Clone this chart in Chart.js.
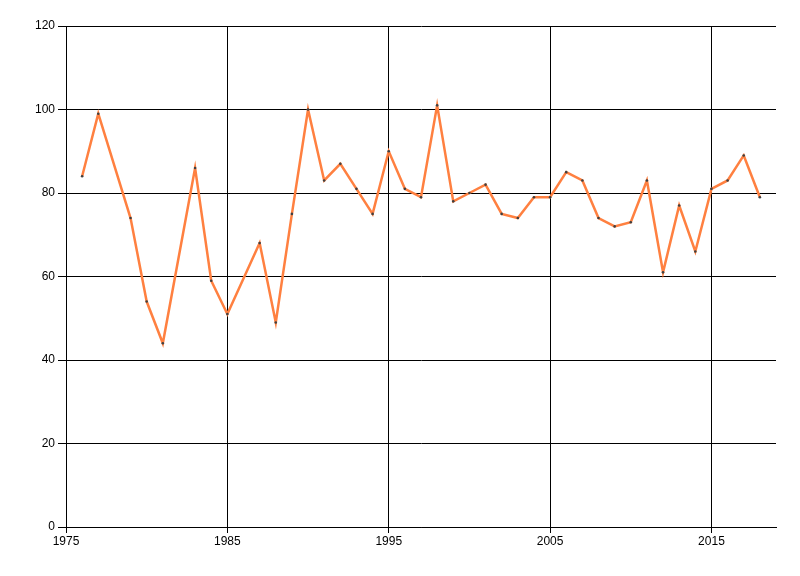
<!DOCTYPE html>
<html>
<head>
<meta charset="utf-8">
<script src="https://cdn.jsdelivr.net/npm/chart.js@4/dist/chart.umd.min.js"></script>
<style>
html,body{margin:0;padding:0;background:#fff;}
#wrap{width:800px;height:576px;position:relative;}
</style>
</head>
<body>
<div id="wrap"><canvas id="c" width="800" height="576"></canvas></div>
<script>
const years = [1976,1977,1979,1980,1981,1983,1984,1985,1987,1988,1989,1990,1991,1992,1993,1994,1995,1996,1997,1998,1999,2000,2001,2002,2003,2004,2005,2006,2007,2008,2009,2010,2011,2012,2013,2014,2015,2016,2017,2018];
const values = [84,99,74,54,44,86,59,51,68,49,75,100,83,87,81,75,90,81,79,101,78,80,82,75,74,79,79,85,83,74,72,73,83,61,77,66,81,83,89,79];
const xTicks = [1975,1985,1995,2005,2015];
const yTicks = [0,20,40,60,80,100,120];

const points = years.map((y,i)=>({x:y,y:values[i]}));

new Chart(document.getElementById('c'), {
  type: 'line',
  data: {
    datasets: [{
      data: points,
      borderColor: 'rgb(255,128,64)',
      borderWidth: 2.5,
      pointRadius: 1.3,
      pointBackgroundColor: '#404040',
      pointBorderWidth: 0,
      tension: 0,
      fill: false
    }]
  },
  options: {
    responsive: false,
    animation: false,
    layout: { padding: { left: 0, top: 26, right: 24, bottom: 0 } },
    plugins: { legend: { display: false }, tooltip: { enabled: false } },
    scales: {
      x: {
        type: 'linear',
        min: 1975,
        max: 2019,
        afterBuildTicks: s => { s.ticks = xTicks.map(v => ({ value: v })); },
        afterFit: s => { s.height = 49; },
        grid: { color: '#000', lineWidth: 1, tickLength: 6, drawTicks: true },
        border: { color: '#000', width: 1 },
        ticks: { color: '#000', padding: 1, maxRotation: 0, callback: v => String(v), font: { family: 'Liberation Sans, Arial, sans-serif', size: 12 } }
      },
      y: {
        min: 0,
        max: 120,
        afterBuildTicks: s => { s.ticks = yTicks.map(v => ({ value: v })); },
        afterFit: s => { s.width = 66; },
        grid: { color: '#000', lineWidth: 1, tickLength: 8, drawTicks: true },
        border: { color: '#000', width: 1 },
        ticks: { color: '#000', padding: 3, callback: v => String(v), font: { family: 'Liberation Sans, Arial, sans-serif', size: 12 } }
      }
    }
  }
});
</script>
</body>
</html>
